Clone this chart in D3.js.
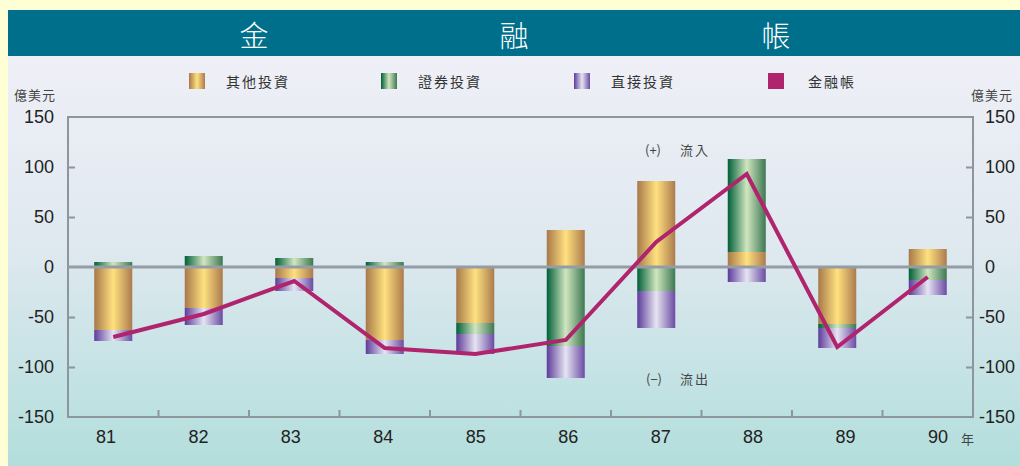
<!DOCTYPE html>
<html>
<head>
<meta charset="utf-8">
<script src="https://cdn.jsdelivr.net/npm/d3@7"></script>
<style>
  html, body { margin: 0; padding: 0; background: #ffffd6; }
  svg { display: block; }
</style>
</head>
<body>
<div class="chart"></div>
<script>
// Chart data (億美元)
var years = ['81', '82', '83', '84', '85', '86', '87', '88', '89', '90'];
var otherInv = [-63, -41, -11, -73, -56, 37, 86, 15, -57, 18];
var portfolioInv = [5, 11, 9, 5, -11, -79, -24, 93, -4, -13];
var directInv = [-11, -17, -13, -14, -20, -32, -37, -15, -20, -15];
var financialAcct = [-70, -47, -14, -81, -87, -73, 25, 93, -80, -10];
var yTicks = [150, 100, 50, 0, -50, -100, -150];

var seriesKeys = ['other', 'portfolio', 'direct'];
var seriesNames = ['其他投資', '證券投資', '直接投資', '金融帳'];

var width = 1020, height = 466;
var margin = { top: 117, right: 47, bottom: 49, left: 68 };
var cjk = '"Noto Sans CJK TC", "Noto Sans CJK SC", sans-serif';
var latin = '"Liberation Sans", Arial, sans-serif';
var axisColor = '#8d959d';

var svg = d3.select('.chart').append('svg')
  .attr('width', width)
  .attr('height', height);

var defs = svg.append('defs');

// Panel background gradient
var bg = defs.append('linearGradient').attr('id', 'panelBg')
  .attr('x1', 0).attr('y1', 0).attr('x2', 0).attr('y2', 1);
bg.append('stop').attr('offset', 0).attr('stop-color', '#efeff7');
bg.append('stop').attr('offset', 0.45).attr('stop-color', '#e0e9f0');
bg.append('stop').attr('offset', 1).attr('stop-color', '#b2dedc');

// Cylinder style gradients for each series
var barStops = {
  other: ['#a7784a', '#ffe17f', '#ab7b4d'],
  portfolio: ['#005f38', '#d0e6c0', '#3d7852'],
  direct: ['#5d3b9b', '#e6e4f2', '#6b4ba3']
};
seriesKeys.forEach(function(k) {
  var g = defs.append('linearGradient').attr('id', 'grad-' + k)
    .attr('x1', 0).attr('y1', 0).attr('x2', 1).attr('y2', 0);
  g.append('stop').attr('offset', 0).attr('stop-color', barStops[k][0]);
  g.append('stop').attr('offset', 0.5).attr('stop-color', barStops[k][1]);
  g.append('stop').attr('offset', 1).attr('stop-color', barStops[k][2]);
});

// Backgrounds and title bar
svg.append('rect').attr('x', 8).attr('y', 56).attr('width', width - 8).attr('height', height - 56)
  .attr('fill', 'url(#panelBg)');
svg.append('rect').attr('x', 8).attr('y', 10).attr('width', width - 8).attr('height', 46)
  .attr('fill', '#006f8b');
svg.append('g').selectAll('text')
  .data([['金', 254], ['融', 514], ['帳', 776]])
  .enter().append('text')
  .attr('x', d => d[1]).attr('y', 34)
  .attr('text-anchor', 'middle').attr('dominant-baseline', 'central')
  .style('font-family', cjk).style('font-size', '29px').style('font-weight', 300)
  .attr('fill', '#ffffff')
  .text(d => d[0]);

// Scales
var xScale = d3.scaleBand()
  .domain(years)
  .range([margin.left, width - margin.right])
  .paddingInner(0.58)
  .paddingOuter(0.29);
var labelScale = d3.scalePoint()
  .domain(years)
  .range([106, 938]);
var yScale = d3.scaleLinear()
  .domain([-150, 150])
  .range([height - margin.bottom, margin.top]);

// Stack the three investment series, diverging around zero
var table = years.map(function(y, i) {
  return { year: y, other: otherInv[i], portfolio: portfolioInv[i], direct: directInv[i] };
});
var stacked = d3.stack().keys(seriesKeys).offset(d3.stackOffsetDiverging)(table);

svg.append('g').attr('class', 'bars')
  .selectAll('g')
  .data(stacked)
  .enter().append('g')
  .attr('fill', d => 'url(#grad-' + d.key + ')')
  .selectAll('rect')
  .data(d => d)
  .enter().append('rect')
  .attr('x', d => xScale(d.data.year))
  .attr('width', xScale.bandwidth())
  .attr('y', d => yScale(Math.max(d[0], d[1])))
  .attr('height', d => Math.abs(yScale(d[0]) - yScale(d[1])));

// Frame and axes
var x0 = margin.left, x1 = width - margin.right;
var yTop = yScale(150), yBot = yScale(-150);
svg.append('rect')
  .attr('x', x0).attr('y', yTop).attr('width', x1 - x0).attr('height', yBot - yTop)
  .attr('fill', 'none').attr('stroke', axisColor).attr('stroke-width', 2);

var leftAxis = svg.append('g').attr('class', 'y-axis-left')
  .attr('transform', 'translate(' + x0 + ',0)')
  .call(d3.axisRight(yScale).tickValues([100, 50, -50, -100]).tickSize(7).tickFormat(''));
var rightAxis = svg.append('g').attr('class', 'y-axis-right')
  .attr('transform', 'translate(' + x1 + ',0)')
  .call(d3.axisLeft(yScale).tickValues([100, 50, -50, -100]).tickSize(7).tickFormat(''));
var bottomTicks = years.slice(1).map(y => y);
var bottomAxis = svg.append('g').attr('class', 'x-axis')
  .attr('transform', 'translate(0,' + yBot + ')')
  .call(d3.axisTop(xScale).tickValues(bottomTicks).tickSize(7).tickFormat(''));
// move bottom ticks to band boundaries
bottomAxis.selectAll('.tick')
  .attr('transform', d => 'translate(' + (xScale(d) - xScale.step() * xScale.paddingInner() / 2) + ',0)');
svg.selectAll('.domain').remove();
svg.selectAll('.tick line').attr('stroke', axisColor).attr('stroke-width', 2);

// Tick labels
svg.append('g').selectAll('text')
  .data(yTicks).enter().append('text')
  .attr('x', 54).attr('y', d => yScale(d))
  .attr('text-anchor', 'end').attr('dominant-baseline', 'central')
  .style('font-family', latin).style('font-size', '18px').attr('fill', '#222')
  .text(d => d);
svg.append('g').selectAll('text')
  .data(yTicks).enter().append('text')
  .attr('x', d => d < 0 ? 979 : 985).attr('y', d => yScale(d))
  .attr('text-anchor', 'start').attr('dominant-baseline', 'central')
  .style('font-family', latin).style('font-size', '18px').attr('fill', '#222')
  .text(d => d);
svg.append('g').selectAll('text')
  .data(years).enter().append('text')
  .attr('x', d => labelScale(d)).attr('y', 437)
  .attr('text-anchor', 'middle').attr('dominant-baseline', 'central')
  .style('font-family', latin).style('font-size', '18px').attr('fill', '#222')
  .text(d => d);

// Unit labels
var unitStyle = function(sel) {
  sel.style('font-family', cjk).style('font-size', '13px').attr('fill', '#444')
    .style('letter-spacing', '1px').attr('dominant-baseline', 'central');
};
svg.append('text').attr('x', 14).attr('y', 94).text('億美元').call(unitStyle);
svg.append('text').attr('x', 971).attr('y', 94).text('億美元').call(unitStyle);
svg.append('text').attr('x', 961).attr('y', 438).text('年').call(unitStyle);

// Zero line
svg.append('line')
  .attr('x1', x0).attr('x2', x1)
  .attr('y1', yScale(0)).attr('y2', yScale(0))
  .attr('stroke', '#959ca5').attr('stroke-width', 3);

// Financial account line
svg.append('path')
  .datum(financialAcct)
  .attr('fill', 'none')
  .attr('stroke', '#b0246d')
  .attr('stroke-width', 4)
  .attr('stroke-linejoin', 'miter')
  .attr('d', d3.line()
    .x((d, i) => xScale(years[i]) + xScale.bandwidth() / 2)
    .y(d => yScale(d)));

// Inflow / outflow notes
var noteStyle = function(sel) {
  sel.style('font-family', cjk).style('font-size', '13px').attr('fill', '#444')
    .attr('dominant-baseline', 'central');
};
svg.append('text').attr('x', 645).attr('y', 149).text('(+)').call(noteStyle);
svg.append('text').attr('x', 680).attr('y', 149).text('流入').style('letter-spacing', '2px').call(noteStyle);
svg.append('text').attr('x', 646).attr('y', 378).text('(−)').call(noteStyle);
svg.append('text').attr('x', 680).attr('y', 378).text('流出').style('letter-spacing', '2px').call(noteStyle);

// Legend
var legendX = [189, 381, 574, 768];
var legendFill = ['url(#grad-other)', 'url(#grad-portfolio)', 'url(#grad-direct)', '#b0246d'];
var legend = svg.append('g').attr('class', 'legend')
  .selectAll('g')
  .data(seriesNames)
  .enter().append('g')
  .attr('transform', (d, i) => 'translate(' + legendX[i] + ',73)');
legend.append('rect')
  .attr('width', 16).attr('height', 16)
  .attr('fill', (d, i) => legendFill[i]);
legend.append('text')
  .attr('x', (d, i) => i === 3 ? 40 : 37).attr('y', 8)
  .attr('dominant-baseline', 'central')
  .style('font-family', cjk).style('font-size', '14px').style('letter-spacing', '2px')
  .attr('fill', '#333')
  .text(d => d);
</script>
</body>
</html>
